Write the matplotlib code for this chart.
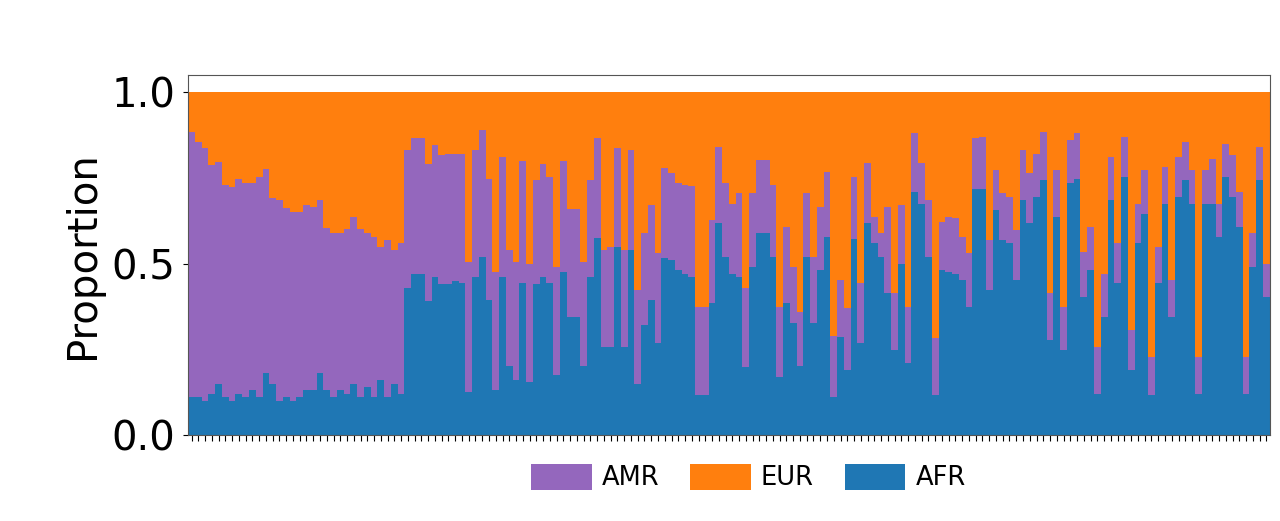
import numpy as np
import matplotlib
matplotlib.use('Agg')
import matplotlib.pyplot as plt

plt.close('all')

# top of AMR block (= AFR + AMR) and AFR share, one value per sample
top_amr = [0.884, 0.855, 0.836, 0.787, 0.797, 0.729, 0.724, 0.748, 0.734, 0.734,
           0.753, 0.777, 0.690, 0.685, 0.661, 0.651, 0.651, 0.670, 0.665, 0.685,
           0.603, 0.588, 0.590, 0.600, 0.636, 0.600, 0.590, 0.578, 0.549, 0.568,
           0.539, 0.559, 0.831, 0.865, 0.865, 0.790, 0.845, 0.816, 0.820, 0.820,
           0.820, 0.505, 0.830, 0.889, 0.748, 0.476, 0.811, 0.540, 0.505, 0.800,
           0.500, 0.743, 0.790, 0.753, 0.490, 0.800, 0.660, 0.660, 0.505, 0.743,
           0.865, 0.540, 0.549, 0.836, 0.540, 0.831, 0.423, 0.589, 0.670, 0.530,
           0.778, 0.763, 0.734, 0.730, 0.725, 0.374, 0.374, 0.627, 0.840, 0.734,
           0.675, 0.705, 0.428, 0.705, 0.802, 0.802, 0.729, 0.374, 0.607, 0.490,
           0.360, 0.705, 0.520, 0.666, 0.768, 0.290, 0.452, 0.370, 0.753, 0.442,
           0.792, 0.637, 0.588, 0.666, 0.413, 0.670, 0.374, 0.880, 0.792, 0.685,
           0.282, 0.622, 0.637, 0.632, 0.578, 0.530, 0.865, 0.870, 0.569, 0.773,
           0.705, 0.695, 0.598, 0.831, 0.763, 0.821, 0.884, 0.413, 0.773, 0.374,
           0.860, 0.880, 0.534, 0.607, 0.258, 0.471, 0.811, 0.559, 0.870, 0.306,
           0.675, 0.773, 0.228, 0.549, 0.782, 0.452, 0.811, 0.855, 0.773, 0.228,
           0.773, 0.806, 0.675, 0.850, 0.816, 0.710, 0.228, 0.588, 0.840, 0.500]

afr = [0.11, 0.11, 0.10, 0.12, 0.15, 0.11, 0.10, 0.12, 0.11, 0.13,
       0.11, 0.18, 0.15, 0.10, 0.11, 0.10, 0.11, 0.13, 0.13, 0.18,
       0.13, 0.11, 0.13, 0.12, 0.15, 0.11, 0.14, 0.11, 0.16, 0.11,
       0.15, 0.12, 0.43, 0.47, 0.47, 0.39, 0.46, 0.44, 0.44, 0.45,
       0.443, 0.126, 0.46, 0.52, 0.394, 0.13, 0.46, 0.20, 0.16, 0.443,
       0.155, 0.44, 0.46, 0.443, 0.175, 0.476, 0.345, 0.345, 0.20, 0.46,
       0.574, 0.257, 0.257, 0.549, 0.257, 0.54, 0.15, 0.32, 0.394, 0.268,
       0.515, 0.51, 0.48, 0.47, 0.46, 0.117, 0.117, 0.385, 0.618, 0.52,
       0.471, 0.462, 0.199, 0.491, 0.588, 0.588, 0.52, 0.17, 0.384, 0.326,
       0.20, 0.52, 0.326, 0.481, 0.578, 0.112, 0.287, 0.19, 0.573, 0.267,
       0.617, 0.559, 0.52, 0.413, 0.248, 0.50, 0.209, 0.709, 0.675, 0.52,
       0.117, 0.481, 0.476, 0.471, 0.452, 0.374, 0.719, 0.719, 0.423, 0.656,
       0.569, 0.56, 0.452, 0.685, 0.617, 0.695, 0.743, 0.277, 0.637, 0.248,
       0.734, 0.748, 0.403, 0.481, 0.121, 0.345, 0.685, 0.442, 0.753, 0.19,
       0.559, 0.646, 0.117, 0.442, 0.675, 0.345, 0.695, 0.743, 0.675, 0.121,
       0.675, 0.675, 0.578, 0.753, 0.695, 0.607, 0.121, 0.491, 0.743, 0.403]

labels = ['AMR', 'EUR', 'AFR']
colors = {'AMR': '#9467bd', 'EUR': '#ff7f0e', 'AFR': '#1f77b4'}

afr = np.array(afr)
amr = np.array(top_amr) - afr
eur = 1.0 - afr - amr
n = len(afr)
x = np.arange(n)

fig = plt.figure(figsize=(12.8, 5.21), dpi=100)
ax = fig.add_axes([0.147, 0.165, 0.845, 0.691])

ax.bar(x, afr, width=1.0, color=colors['AFR'], linewidth=0, label='AFR')
ax.bar(x, amr, width=1.0, bottom=afr, color=colors['AMR'], linewidth=0, label='AMR')
ax.bar(x, eur, width=1.0, bottom=afr + amr, color=colors['EUR'], linewidth=0, label='EUR')

ax.set_xlim(-0.5, n - 0.5)
ax.set_ylim(0, 1.05)
ax.set_xticks(x)
ax.set_xticklabels([])
ax.set_yticks([0.0, 0.5, 1.0])
ax.tick_params(axis='y', labelsize=29, pad=6)
ax.tick_params(axis='x', length=4)
ax.set_ylabel('Proportion', fontsize=29, labelpad=6)

for s in ax.spines.values():
    s.set_edgecolor('#555555')

h, l = ax.get_legend_handles_labels()
order = [l.index(name) for name in labels]
ax.legend([h[i] for i in order], labels, loc='upper center',
          bbox_to_anchor=(0.518, -0.015), ncol=3, frameon=False,
          fontsize=18.5, handlelength=2.35, handleheight=1.2,
          handletextpad=0.4, columnspacing=1.2)

fig.savefig('out.png', dpi=100)
